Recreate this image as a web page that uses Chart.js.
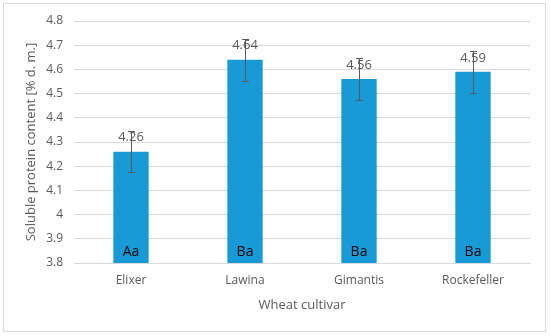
<!DOCTYPE html>
<html>
<head>
<meta charset="utf-8">
<script src="https://cdn.jsdelivr.net/npm/chart.js@4"></script>
<style>
  html, body { margin: 0; padding: 0; background: #fff; }
  #wrap { position: relative; width: 550px; height: 336px; }
  #frame { position: absolute; left: 3px; top: 3px; width: 543px; height: 329px; border: 1px solid #d9d9d9; box-sizing: border-box; }
  canvas { position: absolute; left: 0; top: 0; }
</style>
</head>
<body>
<div id="wrap">
  <div id="frame"></div>
  <canvas id="c" width="550" height="336"></canvas>
</div>
<script>
const categories = ["Elixer", "Lawina", "Gimantis", "Rockefeller"];
const values = [4.26, 4.64, 4.56, 4.59];
const errors = [0.085, 0.087, 0.087, 0.086];
const letters = ["Aa", "Ba", "Ba", "Ba"];
const yTicks = [3.8, 3.9, 4.0, 4.1, 4.2, 4.3, 4.4, 4.5, 4.6, 4.7, 4.8];

const FONT = "'Open Sans', 'Liberation Sans', sans-serif";

const annot = {
  id: 'annot',
  afterDatasetsDraw(chart) {
    const ctx = chart.ctx;
    const meta = chart.getDatasetMeta(0);
    const ys = chart.scales.y;
    ctx.save();
    meta.data.forEach((bar, i) => {
      const x = bar.x;
      // value label
      ctx.fillStyle = '#595959';
      ctx.font = "13px " + FONT;
      ctx.textAlign = 'center';
      ctx.textBaseline = 'middle';
      ctx.fillText(values[i].toFixed(2), x, bar.y - 14);
      // error bar
      const yTop = Math.round(ys.getPixelForValue(values[i] + errors[i]));
      const yBot = Math.round(ys.getPixelForValue(values[i] - errors[i]));
      const xr = Math.round(x);
      ctx.strokeStyle = '#595959';
      ctx.lineWidth = 1;
      ctx.beginPath();
      ctx.moveTo(xr + 0.5, yTop); ctx.lineTo(xr + 0.5, yBot);
      ctx.moveTo(xr - 3, yTop + 0.5); ctx.lineTo(xr + 4, yTop + 0.5);
      ctx.moveTo(xr - 3, yBot + 0.5); ctx.lineTo(xr + 4, yBot + 0.5);
      ctx.stroke();
      // letter label
      ctx.fillStyle = '#000';
      ctx.font = "14px " + FONT;
      ctx.fillText(letters[i], x, ys.getPixelForValue(3.8) - 11);
    });
    ctx.restore();
  }
};

new Chart(document.getElementById('c'), {
  type: 'bar',
  data: {
    labels: categories,
    datasets: [{
      data: values,
      backgroundColor: '#189ad6',
      borderWidth: 0,
      barPercentage: 0.31,
      categoryPercentage: 1.0
    }]
  },
  options: {
    responsive: false,
    animation: false,
    devicePixelRatio: 1,
    layout: { padding: { left: 0, right: 20, top: 21, bottom: 23 } },
    plugins: { legend: { display: false }, tooltip: { enabled: false } },
    scales: {
      x: {
        grid: { display: false, drawTicks: false },
        border: { color: '#d9d9d9' },
        ticks: { color: '#595959', font: { family: FONT, size: 12 }, padding: 10 },
        title: { display: true, text: 'Wheat cultivar', color: '#595959', font: { family: FONT, size: 13 }, padding: { top: 3, bottom: 0 } },
        afterFit(s) { s.height = 50; }
      },
      y: {
        min: 3.8, max: 4.8,
        afterBuildTicks(s) { s.ticks = yTicks.map(v => ({ value: v })); },
        grid: { color: '#d9d9d9', drawTicks: false },
        border: { display: false },
        ticks: {
          color: '#595959', font: { family: FONT, size: 12 }, padding: 11,
          callback: v => String(Number(v.toFixed(1)))
        },
        title: { display: true, text: 'Soluble protein content [% d. m.]', color: '#595959', font: { family: FONT, size: 13 }, padding: { top: 23, bottom: 0 } },
        afterFit(s) { s.width = 74; }
      }
    }
  },
  plugins: [annot]
});
</script>
</body>
</html>
